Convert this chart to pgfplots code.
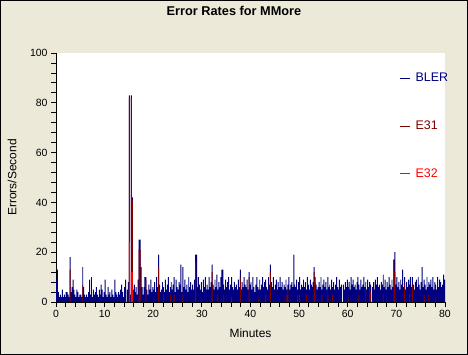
\documentclass[border=0pt]{standalone}
\usepackage{fontspec}
\setmainfont{Liberation Sans}
\usepackage{pgfplots}
\pgfplotsset{compat=1.18}
\definecolor{bgbeige}{HTML}{ECE9D8}
\definecolor{navyblue}{HTML}{000080}
\definecolor{darkred}{HTML}{800000}
\definecolor{brightred}{HTML}{FF0000}
\begin{document}
\begin{tikzpicture}
\fill[bgbeige] (0bp,0bp) rectangle (468bp,355bp);
\begin{axis}[
  at={(56bp,53bp)}, anchor=south west,
  scale only axis, width=389bp, height=249bp,
  xmin=0, xmax=80, ymin=0, ymax=100,
  axis x line*=bottom, axis y line*=left,
  axis background/.style={fill=white},
  xtick={0,10,...,80}, minor x tick num=4,
  ytick={0,20,...,100}, minor y tick num=4,
  tick align=outside, major tick length=5bp, minor tick length=5bp,
  tick style={black, line width=0.8bp},
  axis line style={black, line width=0.8bp},
  ticklabel style={font=\fontsize{10.5}{12}\selectfont},
  /pgf/number format/assume math mode=true,
  xlabel={Minutes}, ylabel={Errors/Second},
  label style={font=\fontsize{12}{14}\selectfont},
  xlabel style={at={(axis description cs:0.5,-0.1245)}, anchor=center},
  ylabel style={at={(axis description cs:-0.113,0.5)}, anchor=center},
  title={Error Rates for MMore},
  title style={at={(axis description cs:0.4576,1.145)}, anchor=center, yshift=0pt, font=\bfseries\fontsize{12.8}{15}\selectfont},
  legend style={draw=none, fill=none, at={(axis description cs:0.875,0.935)}, anchor=north west,
    font=\fontsize{12.5}{14}\selectfont, row sep=33.5bp, legend cell align=left,
    /tikz/every even column/.append style={column sep=0bp},
    /tikz/every odd column/.append style={column sep=3bp}},
  clip=true,
]
\addplot[const plot, fill=navyblue, draw=none,
  legend image code/.code={\draw[navyblue, line width=1bp] (0bp,0bp)--(10bp,0bp);}]
  table[row sep=\\, x expr=\coordindex*0.2, y index=0]{
y\\
9\\13\\4\\2\\3\\
2\\5\\2\\3\\2\\
4\\4\\3\\2\\18\\
4\\6\\9\\5\\3\\
2\\5\\4\\2\\3\\
3\\2\\14\\6\\3\\
2\\3\\2\\4\\9\\
3\\10\\2\\5\\3\\
4\\6\\3\\2\\5\\
3\\7\\5\\2\\4\\
9\\3\\2\\6\\3\\
4\\2\\5\\3\\2\\
9\\4\\3\\2\\4\\
3\\5\\7\\4\\2\\
6\\9\\0\\5\\8\\
83\\3\\83\\42\\5\\
7\\4\\6\\3\\9\\
25\\25\\14\\6\\3\\
6\\10\\10\\5\\3\\
7\\5\\9\\4\\6\\
5\\8\\4\\10\\6\\
19\\7\\4\\5\\8\\
6\\4\\9\\5\\7\\
10\\4\\6\\8\\5\\
7\\10\\4\\9\\6\\
5\\8\\7\\15\\4\\
14\\6\\9\\5\\7\\
4\\10\\6\\8\\5\\
7\\5\\9\\19\\19\\
6\\10\\7\\5\\8\\
4\\9\\6\\10\\5\\
7\\5\\10\\6\\8\\
15\\7\\5\\9\\6\\
11\\5\\8\\6\\10\\
13\\13\\7\\5\\9\\
6\\8\\10\\5\\7\\
10\\6\\5\\8\\6\\
7\\5\\9\\6\\13\\
5\\8\\6\\10\\7\\
6\\9\\5\\12\\7\\
8\\5\\10\\6\\4\\
7\\10\\6\\5\\9\\
5\\7\\10\\6\\8\\
9\\6\\5\\10\\7\\
15\\8\\6\\10\\5\\
7\\9\\5\\8\\6\\
10\\6\\8\\5\\7\\
6\\9\\5\\7\\10\\
5\\7\\8\\6\\19\\
7\\6\\9\\5\\8\\
10\\5\\7\\6\\9\\
6\\8\\5\\10\\7\\
5\\9\\7\\6\\8\\
14\\10\\7\\5\\6\\
8\\6\\10\\5\\7\\
9\\6\\8\\5\\10\\
6\\7\\5\\9\\6\\
8\\5\\7\\10\\6\\
5\\9\\6\\7\\0\\
7\\5\\8\\6\\9\\
6\\8\\5\\10\\7\\
9\\6\\7\\5\\8\\
10\\7\\5\\9\\6\\
7\\10\\6\\8\\5\\
9\\6\\8\\7\\0\\
6\\8\\5\\9\\7\\
10\\6\\7\\5\\8\\
7\\11\\6\\9\\5\\
8\\6\\10\\7\\5\\
9\\6\\17\\20\\7\\
10\\6\\8\\5\\9\\
7\\13\\6\\10\\5\\
8\\6\\9\\7\\10\\
6\\10\\7\\5\\8\\
9\\6\\10\\7\\5\\
8\\14\\6\\9\\7\\
5\\10\\6\\8\\7\\
9\\6\\10\\5\\8\\
7\\5\\10\\6\\9\\
8\\6\\7\\11\\9\\
9\\
} \closedcycle;
\addlegendentry{\textcolor{navyblue}{BLER}}
\addplot[ybar, bar width=0.2, bar shift=0, fill=darkred, draw=none,
  legend image code/.code={\draw[darkred, line width=1bp] (0bp,0bp)--(10bp,0bp);}]
  coordinates {(2.9,13) (5.5,7) (15.1,82) (15.5,82) (15.7,41) (17.1,21) (17.3,21)
  (18.5,9) (21.1,14) (22.1,3) (23.5,3) (24.3,3) (26.1,3) (28.7,16) (32.1,12)
  (33.3,3) (34.5,3) (36.1,2) (37.9,10) (39.7,10) (41.7,2) (43.1,3) (44.1,12)
  (47.5,3) (47.7,5) (49.7,3) (50.1,3) (51.5,3) (53.1,12) (53.3,8) (54.7,3)
  (55.9,3) (56.9,3) (60.1,2) (62.3,3) (63.7,5) (64.5,6) (64.7,4) (67.3,3)
  (69.5,17) (69.7,12) (71.7,7) (72.7,3) (73.3,7) (75.7,3) (76.7,3) (78.1,2)};
\addlegendentry{\textcolor{darkred}{E31}}
\addplot[ybar, bar width=0.2, bar shift=0, fill=brightred, draw=none,
  legend image code/.code={\draw[brightred, line width=1bp] (0bp,0bp)--(10bp,0bp);}]
  coordinates {(15.1,24) (15.5,12) (15.7,12)};
\addlegendentry{\textcolor{brightred}{E32}}
\end{axis}
\draw[black, line width=1bp] (0.5bp,0.5bp) rectangle (467.5bp,354.5bp);
\pgfresetboundingbox
\useasboundingbox (0bp,0bp) rectangle (468bp,355bp);
\end{tikzpicture}
\end{document}
